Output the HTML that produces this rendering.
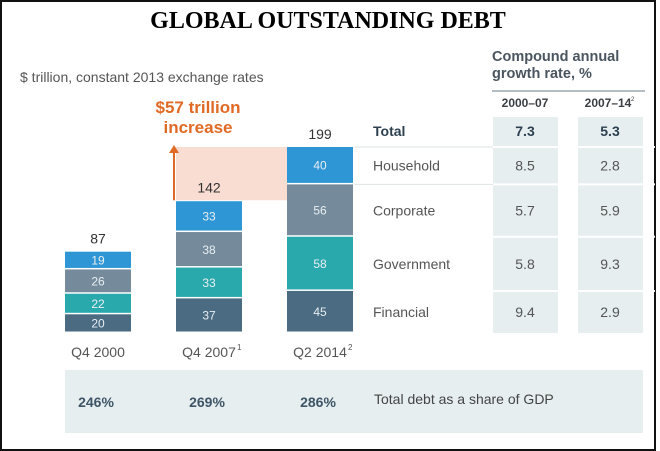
<!DOCTYPE html>
<html><head><meta charset="utf-8"><style>
body{margin:0;width:660px;height:451px;background:#fff;font-family:"Liberation Sans",sans-serif;overflow:hidden}
#frame{position:absolute;left:0;top:0;width:652px;height:447px;border:2px solid #111;}
.t{position:absolute;white-space:nowrap}
</style></head><body>
<div id="frame"></div>
<div class="t" style="left:0;width:656px;text-align:center;top:8px;font-family:'Liberation Serif',serif;font-weight:bold;font-size:24px;color:#000">GLOBAL OUTSTANDING DEBT</div>
<div class="t" style="left:20px;top:69px;font-size:14px;color:#555">$ trillion, constant 2013 exchange rates</div>
<div class="t" style="left:133px;top:98px;width:130px;text-align:center;font-size:17px;font-weight:bold;color:#e06a25;line-height:20px">$57 trillion<br>increase</div>
<div class="t" style="left:492px;top:49px;font-size:14.5px;font-weight:bold;color:#4a5560;line-height:17px">Compound annual<br>growth rate, %</div>
<svg id="chart" width="660" height="451" style="position:absolute;left:0;top:0"></svg>
<script>
const categories=["Q4 2000","Q4 2007","Q2 2014"];
const supers=["","1","2"];
const financial=[20,37,45];
const government=[22,33,58];
const corporate=[26,38,56];
const household=[19,33,40];
const totals=[87,142,199];
const gdpShare=["246%","269%","286%"];
const sectors=["Total","Household","Corporate","Government","Financial"];
const cagr0007=["7.3","8.5","5.7","5.8","9.4"];
const cagr0714=["5.3","2.8","5.9","9.3","2.9"];
const colors=["#4a6b82","#2aa9ad","#758b9b","#2f96d6"];
const NS="http://www.w3.org/2000/svg";
const svg=document.getElementById('chart');
const base=333, scale=186/199;
const barX=[65,176,287], barW=66;
function y(v){return base-v*scale;}
function mk(tag,a,txt){const e=document.createElementNS(NS,tag);for(const k in a)e.setAttribute(k,a[k]);if(txt!==undefined)e.textContent=txt;svg.appendChild(e);return e;}
let band=mk('rect',{x:65,y:370,width:578,height:63,fill:'#e6eef0'});


[[493,558],[578,643]].forEach((c,i)=>{
 let r=mk('rect',{x:c[0],y:117,width:c[1]-c[0],height:216,fill:'#e6eef0'});
 
 
});
mk('line',{x1:492,y1:91,x2:645,y2:91,stroke:'#9aa6ae','stroke-width':1.5});
let h1=mk('text',{x:525,y:107,'text-anchor':'middle','font-size':12,'font-weight':'bold',fill:'#3a3f44'},'2000–07');


let h2=mk('text',{x:608,y:107,'text-anchor':'middle','font-size':12,'font-weight':'bold',fill:'#3a3f44'},'2007–14');


mk('text',{x:631,y:101,'font-size':6,fill:'#3a3f44'},'2');
const topPrev=y(totals[1]),topLast=y(totals[2]);
let sh=mk('rect',{x:176,y:topLast,width:111,height:topPrev-topLast,fill:'#f9ddd3'});


let ar=mk('line',{x1:174,y1:topPrev,x2:174,y2:topLast+4,stroke:'#e06a25','stroke-width':2});


mk('polygon',{points:`169,${topLast+6} 179,${topLast+6} 174,${topLast-2}`,fill:'#e06a25'});
const series=[financial,government,corporate,household];
const snames=["financial","government","corporate","household"];
categories.forEach((c,i)=>{
 let cum=0;
 series.forEach((s,k)=>{
  const y0=y(cum),y1=y(cum+s[i]);
  const r=mk('rect',{x:barX[i],y:y1,width:barW,height:y0-y1-1.5,fill:colors[k]});
  
  
  mk('text',{x:barX[i]+barW/2,y:(y0+y1)/2+4,'text-anchor':'middle','font-size':12,fill:'#e8eef2'},s[i]);
  cum+=s[i];
 });
 const tt=mk('text',{x:barX[i]+barW/2,y:y(totals[i])-8,'text-anchor':'middle','font-size':14,fill:'#333'},totals[i]);
 
 
 const xl=mk('text',{x:barX[i]+barW/2,y:357,'text-anchor':'middle','font-size':14,fill:'#555'},c);
 
 
 if(supers[i]){mk('text',{x:barX[i]+barW/2+28,y:350,'font-size':8,fill:'#555'},supers[i]);}
 const g=mk('text',{x:barX[i]+barW/2-2,y:407,'text-anchor':'middle','font-size':14,'font-weight':'bold',fill:'#3d5566'},gdpShare[i]);
 
 
});
let gl=mk('text',{x:374,y:404,'font-size':14,fill:'#444'},'Total debt as a share of GDP');


const seg=[household[2],corporate[2],government[2],financial[2]];
let bounds=[y(totals[2])];let acc=totals[2];
seg.forEach(v=>{acc-=v;bounds.push(y(acc));});
const rowY=[136];
for(let k=0;k<4;k++)rowY.push((bounds[k]+bounds[k+1])/2+5);
[bounds[0],bounds[1],bounds[2],bounds[3]].forEach(b=>mk('line',{x1:360,y1:b,x2:655,y2:b,stroke:'#fff','stroke-width':2}));
mk('line',{x1:355,y1:bounds[0],x2:493,y2:bounds[0],stroke:'#dde3e6','stroke-width':1});
mk('line',{x1:355,y1:bounds[1],x2:493,y2:bounds[1],stroke:'#dde3e6','stroke-width':1});
sectors.forEach((s,k)=>{
 const bold=k===0;
 const l=mk('text',{x:373,y:rowY[k],'font-size':14,'font-weight':bold?'bold':'normal',fill:bold?'#2d4050':'#555'},s);
 
 
 const a=mk('text',{x:525,y:rowY[k],'text-anchor':'middle','font-size':14,'font-weight':bold?'bold':'normal',fill:bold?'#2d4050':'#555'},cagr0007[k]);
 
 
 const b=mk('text',{x:610,y:rowY[k],'text-anchor':'middle','font-size':14,'font-weight':bold?'bold':'normal',fill:bold?'#2d4050':'#555'},cagr0714[k]);
 
 
});
</script>
</body></html>
